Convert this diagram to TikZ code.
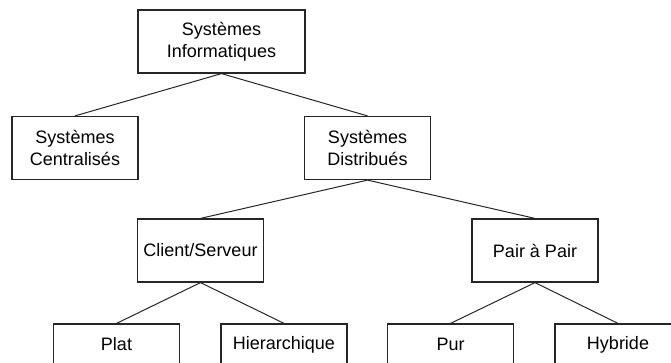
\documentclass[tikz,border=0pt]{standalone}
\usepackage{fontspec}
\setmainfont{Liberation Sans}
\begin{document}
\begin{tikzpicture}[x=1pt,y=-1pt,
  box/.style={draw=black!85,line width=1.2pt,fill=white,minimum width=126pt,minimum height=63pt,
    inner sep=0pt,align=center,font=\fontsize{18}{22}\selectfont},
  link/.style={draw=black!85,line width=1pt}]
\useasboundingbox (0,0) rectangle (671,362);
\clip (0,0) rectangle (671,362);
\node[box,minimum width=167pt] (si) at (221.5,41.5) {Systèmes\\Informatiques};
\node[box] (sc) at (75,148) {Systèmes\\Centralisés};
\node[box] (sd) at (367.5,148) {Systèmes\\Distribués};
\node[box] (cs) at (200.5,250.5) {Client/Serveur};
\node[box] (pp) at (535,250.5) {Pair à Pair};
\node[box] (plat) at (116.5,355.5) {Plat\\\phantom{Plat}};
\node[box] (hier) at (284,355.5) {Hierarchique\\\phantom{Hierarchique}};
\node[box] (pur) at (450.5,355.5) {Pur\\\phantom{Pur}};
\node[box] (hyb) at (618,355.5) {Hybride\\\phantom{Hybride}};
\draw[link] (si.south) -- (sc.north);
\draw[link] (si.south) -- (sd.north);
\draw[link] (sd.south) -- (cs.north);
\draw[link] (sd.south) -- (pp.north);
\draw[link] (cs.south) -- (plat.north);
\draw[link] (cs.south) -- (hier.north);
\draw[link] (pp.south) -- (pur.north);
\draw[link] (pp.south) -- (hyb.north);
\end{tikzpicture}
\end{document}
